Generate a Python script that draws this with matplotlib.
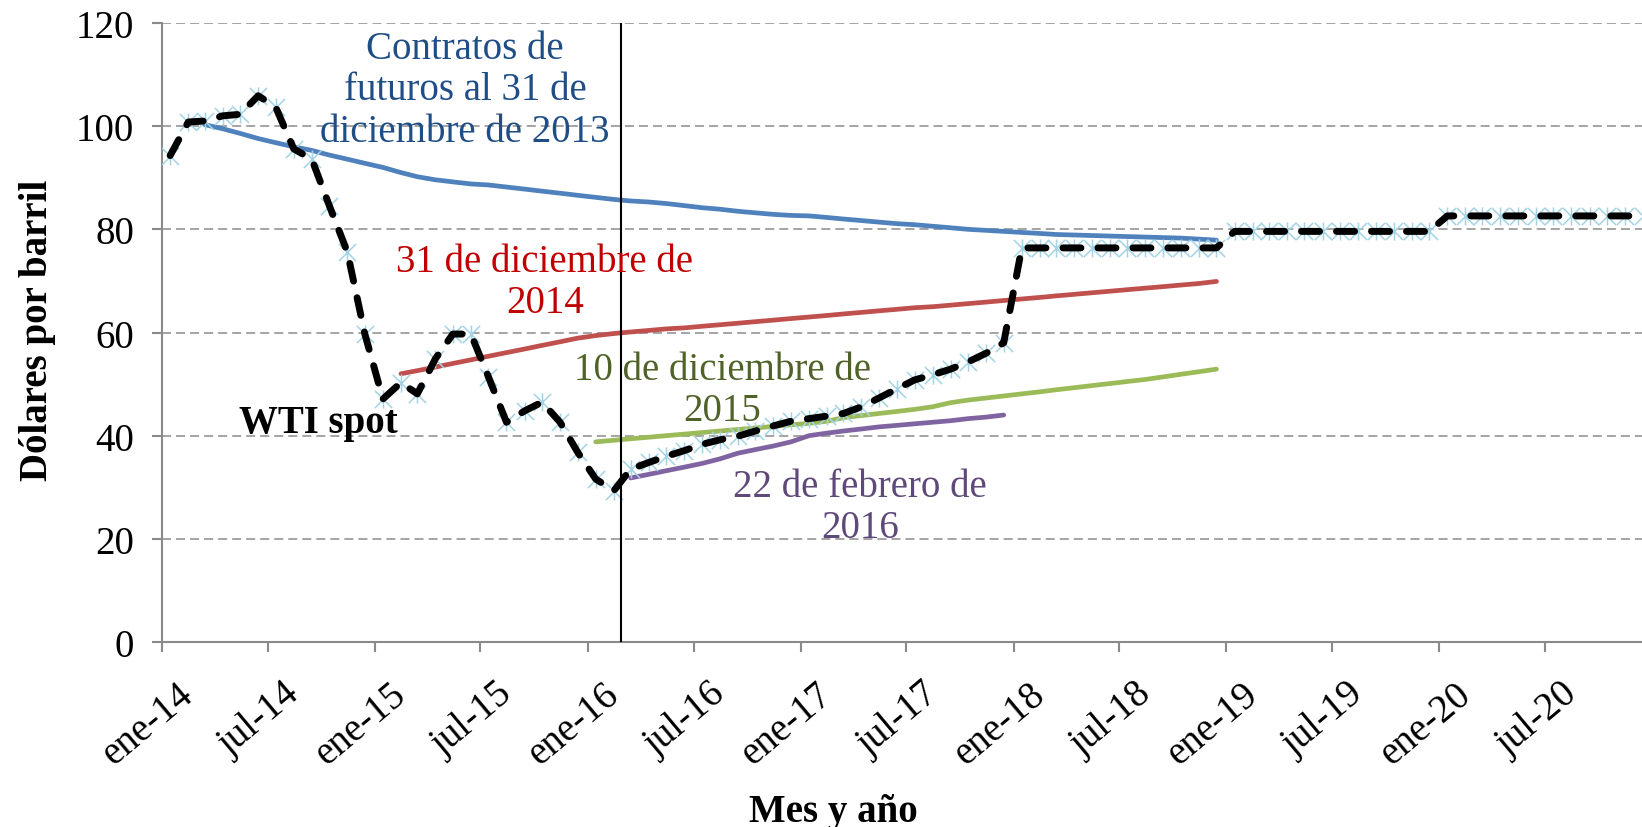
import matplotlib
matplotlib.use('Agg')
import matplotlib.pyplot as plt
import pandas as pd
from matplotlib.path import Path
from matplotlib.transforms import ScaledTranslation

plt.rcParams['font.family'] = ['Liberation Serif', 'DejaVu Serif']
plt.rcParams['lines.scale_dashes'] = False

# ---------------- data ----------------
# WTI spot (monthly, ene-14 ... dic-20)
wti_start = '2014-01'
wti = [94.3, 100.8, 101.0, 102.0, 102.3, 105.9, 103.7, 95.6, 93.6, 84.6, 75.6, 59.7,
       47.1, 50.3, 48.1, 54.9, 59.7, 59.7, 51.4, 42.6, 44.8, 46.5, 42.6, 36.8,
       31.6, 29.3, 33.5, 34.8, 36.0, 37.1, 38.3, 39.2, 39.9, 40.9, 41.9, 42.8,
       43.3, 43.8, 44.3, 45.6, 47.3, 49.1, 50.8, 51.8, 52.9, 54.3, 56.0, 58.0,
       76.4, 76.4, 76.4, 76.4, 76.4, 76.4, 76.4, 76.4, 76.4, 76.4, 76.4, 76.4,
       79.6, 79.6, 79.6, 79.6, 79.6, 79.6, 79.6, 79.6, 79.6, 79.6, 79.6, 79.6,
       82.6, 82.6, 82.6, 82.6, 82.6, 82.6, 82.6, 82.6, 82.6, 82.6, 82.6, 82.6]

# Futures at 31 Dec 2013 (mar-14 ... dic-18)
fut2013_start = '2014-03'
fut2013 = [100.3, 99.5, 98.6, 97.6, 96.8, 96.0, 95.3, 94.4, 93.6, 92.8,
           92.0, 91.0, 90.2, 89.6, 89.2, 88.8, 88.6, 88.2, 87.8, 87.4, 87.0, 86.6,
           86.2, 85.8, 85.5, 85.3, 85.0, 84.6, 84.2, 83.9, 83.5, 83.2, 82.9, 82.7,
           82.6, 82.3, 82.0, 81.7, 81.4, 81.1, 80.9, 80.6, 80.3, 80.0, 79.8, 79.6,
           79.4, 79.2, 79.0, 78.9, 78.8, 78.7, 78.6, 78.5, 78.4, 78.3, 78.1, 77.9]

# Futures at 31 Dec 2014 (feb-15 ... dic-18)
fut2014_start = '2015-02'
fut2014 = [52.0, 52.6, 53.3, 54.0, 54.7, 55.4, 56.1, 56.8, 57.5, 58.2, 58.9,
           59.4, 59.8, 60.1, 60.4, 60.7, 60.9, 61.2, 61.5, 61.8, 62.1, 62.4, 62.7,
           63.0, 63.3, 63.6, 63.9, 64.2, 64.5, 64.8, 65.0, 65.3, 65.6, 65.9, 66.2,
           66.5, 66.8, 67.1, 67.4, 67.7, 68.0, 68.3, 68.6, 68.9, 69.2, 69.5, 69.9]

# Futures at 10 Dec 2015 (ene-16 ... dic-18)
fut2015_start = '2016-01'
fut2015 = [38.8, 39.1, 39.4, 39.7, 40.0, 40.3, 40.6, 40.9, 41.2, 41.5, 41.8, 42.1,
           42.4, 42.8, 43.5, 43.9, 44.3, 44.7, 45.1, 45.6, 46.4, 46.9, 47.3, 47.7,
           48.1, 48.5, 48.9, 49.3, 49.7, 50.1, 50.5, 50.9, 51.4, 51.9, 52.4, 52.9]

# Futures at 22 Feb 2016 (mar-16 ... dic-17)
fut2016_start = '2016-03'
fut2016 = [31.8, 32.5, 33.2, 33.9, 34.6, 35.5, 36.6, 37.3, 38.0, 38.8,
           40.0, 40.5, 40.9, 41.3, 41.7, 42.0, 42.3, 42.6, 42.9, 43.3, 43.6, 44.0]

vline_date = '2016-02-28'

tick_dates = ['2014-01-01', '2014-07-01', '2015-01-01', '2015-07-01', '2016-01-01',
              '2016-07-01', '2017-01-01', '2017-07-01', '2018-01-01', '2018-07-01',
              '2019-01-01', '2019-07-01', '2020-01-01', '2020-07-01']
tick_labels = ['ene-14', 'jul-14', 'ene-15', 'jul-15', 'ene-16', 'jul-16', 'ene-17',
               'jul-17', 'ene-18', 'jul-18', 'ene-19', 'jul-19', 'ene-20', 'jul-20']
y_ticks = [0, 20, 40, 60, 80, 100, 120]


def monthly(start, values):
    return pd.date_range(start + '-01', periods=len(values), freq='MS') + pd.Timedelta(days=14)


# ---------------- figure ----------------
W, H = 1642, 828
fig = plt.figure(figsize=(W / 100, H / 100), dpi=100)
ax = fig.add_axes([162 / W, 1 - 643 / H, 1 - 162 / W, (643 - 24) / H])

ax.set_xlim(pd.Timestamp('2014-01-01'), pd.Timestamp('2020-12-14'))
ax.set_ylim(0, 120)

# grid
ax.set_yticks(y_ticks)
ax.yaxis.grid(True, color='#8c8c8c', lw=1.1, linestyle=(0, (6.5, 3.6)), zorder=0)
ax.set_axisbelow(True)

for s in ['top', 'right']:
    ax.spines[s].set_visible(False)
for s in ['left', 'bottom']:
    ax.spines[s].set_color('#8a8a8a')
    ax.spines[s].set_linewidth(1.5)

fs = 28
ax.tick_params(axis='both', colors='#8a8a8a', width=1.5, length=7, labelcolor='black',
               labelsize=fs)
ax.tick_params(axis='y', pad=13)

ax.set_xticks(pd.to_datetime(tick_dates))
ax.set_xticklabels(tick_labels, rotation=40, ha='right', va='top', rotation_mode='anchor')
ax.tick_params(axis='x', pad=17)
offset = ScaledTranslation(0.15, 0, fig.dpi_scale_trans)
for lbl in ax.get_xticklabels():
    lbl.set_transform(lbl.get_transform() + offset)

# series
lw_c = 3.4
ax.plot(monthly(fut2013_start, fut2013), fut2013, color='#4F81BD', lw=lw_c,
        solid_capstyle='round', zorder=3)
ax.plot(monthly(fut2014_start, fut2014), fut2014, color='#C0504D', lw=lw_c,
        solid_capstyle='round', zorder=3)
ax.plot(monthly(fut2015_start, fut2015), fut2015, color='#9BBB59', lw=lw_c,
        solid_capstyle='round', zorder=3)
ax.plot(monthly(fut2016_start, fut2016), fut2016, color='#8064A2', lw=lw_c,
        solid_capstyle='round', zorder=3)

star = Path([(-1, -1), (1, 1), (-1, 1), (1, -1), (0, -1.05), (0, 1.05)],
            [Path.MOVETO, Path.LINETO, Path.MOVETO, Path.LINETO, Path.MOVETO, Path.LINETO])
wti_x = monthly(wti_start, wti)
ax.plot(wti_x, wti, linestyle='none', marker=star, markersize=13,
        markeredgecolor='#A3D4E6', markeredgewidth=1.1, markerfacecolor='none', zorder=3.5)
ax.plot(wti_x, wti, color='black', lw=5,
        linestyle=(0, (13, 12.2)), dash_capstyle='round', dash_joinstyle='round',
        zorder=4)

ax.axvline(pd.Timestamp(vline_date), color='black', lw=1.5, zorder=5)

# labels
ls = 1.16
fig.text(465 / W, 1 - 91 / H, 'Contratos de\nfuturos al 31 de\ndiciembre de 2013',
         color='#1F4E87', fontsize=fs, ha='center', va='center', linespacing=ls)
fig.text(545 / W, 1 - 283 / H, '31 de diciembre de\n2014', color='#C00000',
         fontsize=fs, ha='center', va='center', linespacing=ls)
fig.text(722 / W, 1 - 391 / H, '10 de diciembre de\n2015', color='#4F6228',
         fontsize=fs, ha='center', va='center', linespacing=ls)
fig.text(860 / W, 1 - 508 / H, '22 de febrero de\n2016', color='#5F497A',
         fontsize=fs, ha='center', va='center', linespacing=ls)
fig.text(318 / W, 1 - 424 / H, 'WTI spot', color='black', fontsize=fs,
         fontweight='bold', ha='center', va='center')
fig.text(38 / W, 1 - 330 / H, 'Dólares por barril', color='black', fontsize=fs,
         fontweight='bold', ha='center', va='center', rotation=90)
fig.text(833 / W, 1 - 822 / H, 'Mes y año', color='black', fontsize=fs,
         fontweight='bold', ha='center', va='baseline')

fig.savefig('out.png', dpi=100)
